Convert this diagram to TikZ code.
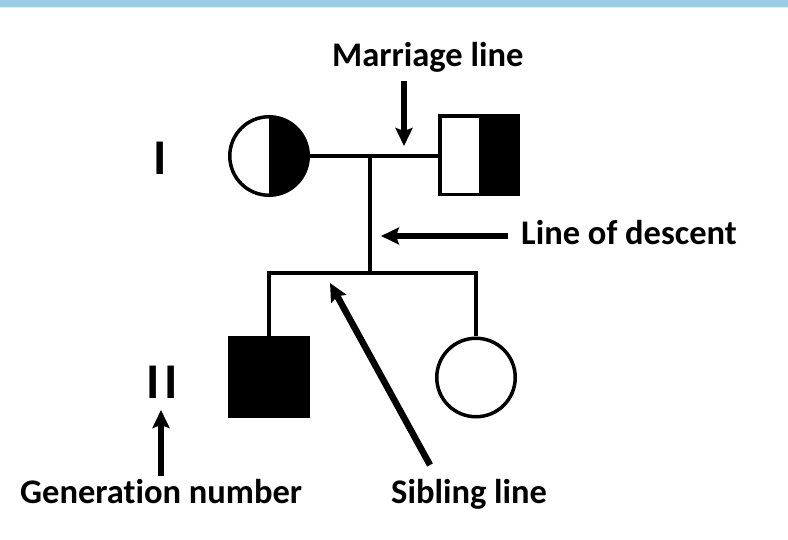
\documentclass[tikz,border=0pt]{standalone}
\usepackage{fontspec}
\setmainfont[Ligatures=NoCommon]{Carlito}
\usetikzlibrary{arrows.meta}
\definecolor{band}{HTML}{9ACEE5}
\begin{document}
\begin{tikzpicture}[x=1pt,y=-1pt,
  rel/.style={line width=3.5pt},
  ptr/.style={line width=6.5pt, -{Stealth[length=18pt,width=17pt,inset=3pt]}},
  lbl/.style={font=\fontsize{34.5}{40}\selectfont\bfseries, inner sep=0pt},
  gen/.style={font=\fontsize{50}{60}\selectfont\bfseries, inner sep=0pt},
  indiv/.style={draw, rel, inner sep=0pt, minimum size=78.5pt},
  halfblack/.style={path picture={\fill[black] (path picture bounding box.north) rectangle (path picture bounding box.south east);}},
  ]
\useasboundingbox (0,0) rectangle (788,540);
\fill[band] (0,0) rectangle (788,7);
\fill[band!35] (0,7) rectangle (788,8.5);

% individuals
\node[indiv, circle, halfblack] (mother) at (269,156) {};
\node[indiv, rectangle, halfblack] (father) at (479,155.5) {};
\node[indiv, rectangle, fill=black] (son) at (269,377) {};
\node[indiv, circle] (daughter) at (476,377.5) {};

% generation numbers
\node[gen] (g1) at (160.5,158) {I};
\node[gen] (g2) at (162,382) {I\kern5pt I};

% pedigree lines
\coordinate (mid) at (370,156);
\coordinate (sib) at (370,273);
\coordinate (sl) at (269,273);
\coordinate (sr) at (476,273);
\draw[rel] (mother.east) -- (mother.east -| father.west);
\draw[rel] (mid) -- (sib);
\draw[rel] (son.north) -- (sl) -- (sr) -- (daughter.north);

% labels
\node[lbl, anchor=base west] (ml) at (332,67) {Marriage line};
\node[lbl, anchor=base west] (ld) at (521,245) {Line of descent};
\node[lbl, anchor=base west] (gn) at (20,503) {Generation number};
\node[lbl, anchor=base west] (sbl) at (391,503) {Sibling line};

% pointer arrows
\coordinate (mlTail) at (404,81);
\coordinate (mlTip) at (404,146);
\coordinate (ldTail) at (508,236);
\coordinate (ldTip) at (381,236);
\coordinate (gnTail) at (161,476);
\coordinate (gnTip) at (161,410);
\coordinate (sbTail) at (430,465);
\coordinate (sbTip) at (330,283);
\draw[ptr] (mlTail) -- (mlTip);
\draw[ptr] (ldTail) -- (ldTip);
\draw[ptr] (gnTail) -- (gnTip);
\draw[ptr] (sbTail) -- (sbTip);
\end{tikzpicture}
\end{document}
